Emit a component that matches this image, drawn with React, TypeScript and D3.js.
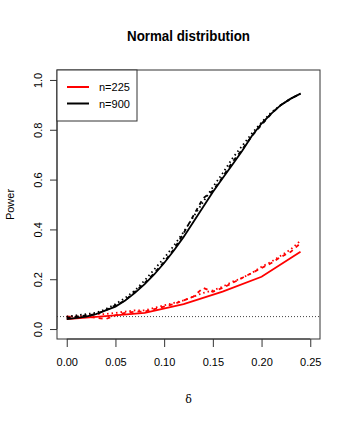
import React, { useRef, useEffect } from 'react'
import * as d3 from 'd3'

// shift sizes (fine grid for simulated curves, coarse grid for theoretical curve of n=225)
const deltaFine = [0, 0.01, 0.02, 0.03, 0.04, 0.05, 0.06, 0.07, 0.08, 0.09, 0.1, 0.11, 0.12, 0.13, 0.14, 0.15, 0.16, 0.17, 0.18, 0.19, 0.2, 0.21, 0.22, 0.23, 0.24]
const deltaCoarse = [0, 0.04, 0.08, 0.12, 0.16, 0.2, 0.24]

// n = 225 (red)
const red225Solid = [0.04, 0.052, 0.065, 0.1, 0.15, 0.21, 0.31]
const red225Dashed = [0.05, 0.05, 0.05, 0.045, 0.04, 0.055, 0.065, 0.07, 0.07, 0.08, 0.09, 0.1, 0.115, 0.13, 0.165, 0.15, 0.165, 0.185, 0.205, 0.225, 0.245, 0.265, 0.29, 0.31, 0.345]
const red225Dotted = [0.05, 0.05, 0.055, 0.06, 0.06, 0.065, 0.07, 0.075, 0.075, 0.085, 0.095, 0.105, 0.115, 0.13, 0.145, 0.155, 0.17, 0.19, 0.205, 0.225, 0.25, 0.27, 0.295, 0.32, 0.355]

// n = 900 (black)
const black900Solid = [0.04, 0.045, 0.05, 0.06, 0.075, 0.09, 0.115, 0.145, 0.18, 0.22, 0.265, 0.315, 0.37, 0.43, 0.49, 0.55, 0.605, 0.66, 0.715, 0.775, 0.825, 0.865, 0.9, 0.925, 0.945]
const black900Dashed = [0.045, 0.05, 0.055, 0.06, 0.075, 0.095, 0.115, 0.15, 0.185, 0.225, 0.27, 0.32, 0.385, 0.455, 0.525, 0.555, 0.61, 0.67, 0.72, 0.775, 0.82, 0.865, 0.9, 0.925, 0.945]
const black900Dotted = [0.05, 0.055, 0.06, 0.065, 0.08, 0.1, 0.125, 0.155, 0.195, 0.24, 0.285, 0.335, 0.39, 0.45, 0.51, 0.57, 0.625, 0.685, 0.735, 0.785, 0.83, 0.87, 0.9, 0.925, 0.945]

const xTicks = [0, 0.05, 0.1, 0.15, 0.2, 0.25]
const yTicks = [0, 0.2, 0.4, 0.6, 0.8, 1.0]
const alphaLevel = 0.05
const legendLabels = ['n=225', 'n=900']
const legendColors = ['#ff0000', '#000000']

const App = () => {
  const svgRef = useRef<SVGSVGElement>(null)

  useEffect(() => {
    const svg = d3.select(svgRef.current)
    svg.selectAll('*').remove()

    const width = 349
    const height = 426
    const box = { left: 57, right: 320, top: 70, bottom: 339 }
    const font = '"Liberation Sans", Arial, Helvetica, sans-serif'
    const axisCol = '#333'

    svg.attr('width', width).attr('height', height)

    const x = d3.scaleLinear().domain([-0.01, 0.26]).range([box.left, box.right])
    const y = d3.scaleLinear().domain([-0.04, 1.04]).range([box.bottom, box.top])

    // reference line at 0.05
    svg.append('line')
      .attr('x1', box.left).attr('x2', box.right)
      .attr('y1', y(alphaLevel)).attr('y2', y(alphaLevel))
      .attr('stroke', '#444').attr('stroke-width', 1)
      .attr('stroke-dasharray', '1 2')

    const line = d3.line<[number, number]>()
      .x(d => x(d[0]))
      .y(d => y(d[1]))
      .curve(d3.curveLinear)

    const series = [
      { xs: deltaCoarse, ys: red225Solid, col: '#ff0000', dash: null },
      { xs: deltaFine, ys: red225Dashed, col: '#ff0000', dash: '4 4' },
      { xs: deltaFine, ys: red225Dotted, col: '#ff0000', dash: '1.5 3' },
      { xs: deltaFine, ys: black900Solid, col: '#000000', dash: null },
      { xs: deltaFine, ys: black900Dashed, col: '#000000', dash: '4 4' },
      { xs: deltaFine, ys: black900Dotted, col: '#000000', dash: '1.5 3' },
    ]

    series.forEach(s => {
      const pts: [number, number][] = s.xs.map((d, i) => [d, s.ys[i]])
      const p = svg.append('path')
        .datum(pts)
        .attr('fill', 'none')
        .attr('stroke', s.col)
        .attr('stroke-width', 1.8)
        .attr('d', line)
      if (s.dash) p.attr('stroke-dasharray', s.dash)
    })

    // box
    svg.append('rect')
      .attr('x', box.left).attr('y', box.top)
      .attr('width', box.right - box.left).attr('height', box.bottom - box.top)
      .attr('fill', 'none').attr('stroke', axisCol).attr('stroke-width', 1)

    // x axis
    const xAxis = d3.axisBottom(x).tickValues(xTicks).tickFormat(d3.format('.2f')).tickSizeInner(8).tickSizeOuter(0)
    const gx = svg.append('g').attr('transform', `translate(0,${box.bottom})`).call(xAxis)
    gx.select('.domain').attr('d', `M${x(0)},0H${x(0.25)}`).attr('stroke', axisCol)
    gx.selectAll('.tick line').attr('stroke', axisCol)
    gx.selectAll('text').attr('font-family', font).attr('font-size', 11).attr('fill', '#000').attr('dy', '1.45em')

    // y axis
    const yAxis = d3.axisLeft(y).tickValues(yTicks).tickFormat(d3.format('.1f')).tickSizeInner(7).tickSizeOuter(0)
    const gy = svg.append('g').attr('transform', `translate(${box.left},0)`).call(yAxis)
    gy.select('.domain').attr('d', `M0,${y(0)}V${y(1)}`).attr('stroke', axisCol)
    gy.selectAll('.tick line').attr('stroke', axisCol)
    gy.selectAll('text')
      .attr('font-family', font).attr('font-size', 11).attr('fill', '#000')
      .attr('x', 0).attr('dy', 0)
      .attr('text-anchor', 'middle')
      .attr('transform', 'translate(-15,0) rotate(-90)')

    // title and labels
    svg.append('text')
      .attr('x', 127).attr('y', 41)
      .attr('font-family', font).attr('font-weight', 'bold').attr('font-size', 15)
      .attr('textLength', 123).attr('lengthAdjust', 'spacingAndGlyphs')
      .text('Normal distribution')

    svg.append('text')
      .attr('transform', `translate(14,${(box.top + box.bottom) / 2}) rotate(-90)`)
      .attr('text-anchor', 'middle')
      .attr('font-family', font).attr('font-size', 11)
      .text('Power')

    svg.append('text')
      .attr('x', (box.left + box.right) / 2).attr('y', 403)
      .attr('text-anchor', 'middle')
      .attr('font-family', '"DejaVu Serif", serif').attr('font-size', 11)
      .text('δ')

    // legend
    const lg = svg.append('g')
    lg.append('rect')
      .attr('x', box.left).attr('y', box.top)
      .attr('width', 80).attr('height', 51)
      .attr('fill', '#fff').attr('stroke', axisCol).attr('stroke-width', 1)
    legendLabels.forEach((lab, i) => {
      const yy = box.top + 17 + i * 16.5
      lg.append('line')
        .attr('x1', 67).attr('x2', 89)
        .attr('y1', yy).attr('y2', yy)
        .attr('stroke', legendColors[i]).attr('stroke-width', 2)
      lg.append('text')
        .attr('x', 99).attr('y', yy + 4)
        .attr('font-family', font).attr('font-size', 11)
        .text(lab)
    })
  }, [])

  return <svg ref={svgRef} style={{ position: 'absolute', left: 0, top: 0 }}></svg>
}

export default App
